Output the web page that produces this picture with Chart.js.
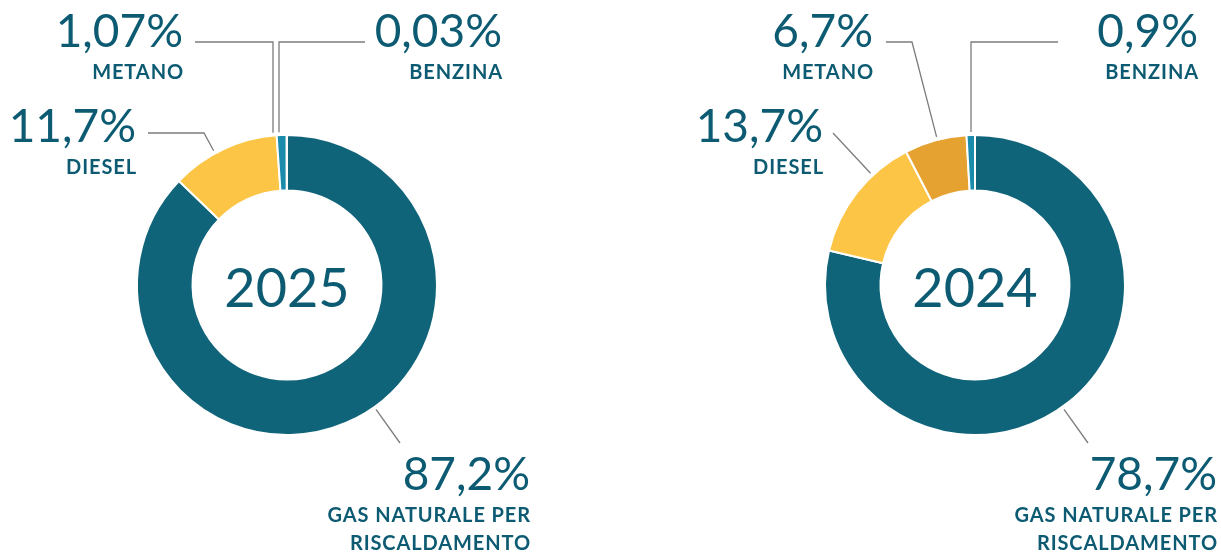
<!DOCTYPE html>
<html lang="it">
<head>
<meta charset="utf-8">
<script src="https://cdn.jsdelivr.net/npm/chart.js@4.4.1/dist/chart.umd.min.js"></script>
<style>
    html, body { margin: 0; padding: 0; background: #fff; overflow: hidden; }
    canvas { position: absolute; top: 0; }
    #Chart2025 { left: 0; }
    #Chart2024 { left: 610px; }
</style>
</head>
<body>
<canvas id="Chart2025" width="610" height="553"></canvas>
<canvas id="Chart2024" width="611" height="553"></canvas>
<script>
const categorie = ["GAS NATURALE PER RISCALDAMENTO", "DIESEL", "METANO", "BENZINA"]
const righe_categorie = [["GAS NATURALE PER", "RISCALDAMENTO"], ["DIESEL"], ["METANO"], ["BENZINA"]]

const anni = ["2025", "2024"]
const valori_2025 = [87.2, 11.7, 1.07, 0.03]
const valori_2024 = [78.7, 13.7, 6.7, 0.9]

const colori_2025 = ["#10647a", "#fcc545", "#1a8bab", "#1a8bab"]
const colori_2024 = ["#10647a", "#fcc545", "#e6a231", "#1a8bab"]

const colore_testo = "#0d5b72"
const colore_linea = "#7c7c7c"

// posizione delle etichette rispetto al centro della ciambella
// x, y = fine destra / baseline della percentuale, linea = punti del richiamo
const layout_2025 = [
    { x: 243, y: 205, linea: [[113, 158]] },
    { x: -151, y: -143, linea: [[-139, -152], [-83, -152]] },
    { x: -104, y: -238, linea: [[-92, -243], [-14, -243]], verticale: true },
    { x: 215, y: -238, linea: [[78, -243], [-8, -243]], verticale: true }
]
const layout_2024 = [
    { x: 242, y: 205, linea: [[113, 158]] },
    { x: -152, y: -143, linea: [[-142, -152]] },
    { x: -102, y: -238, linea: [[-89, -243], [-63, -243]] },
    { x: 223, y: -238, linea: [[83, -243], [-4, -243]], verticale: true }
]

function formato (v) {
    return String(v).replace(".", ",") + "%"
}

const etichette = {
    id: "etichette",
    afterDraw(chart, args, opts) {
        const ctx = chart.ctx
        const arc = chart.getDatasetMeta(0).data[0]
        const cx = arc.x
        const cy = arc.y
        const r = arc.outerRadius + 3
        const valori = chart.data.datasets[0].data

        ctx.save()
        ctx.fillStyle = colore_testo
        ctx.textBaseline = "alphabetic"

        ctx.textAlign = "center"
        ctx.font = "400 54px Lato"
        ctx.fillText(opts.anno, cx, cy + 22)

        opts.layout.forEach((p, i) => {
            // linea di richiamo fino al bordo esterno
            const ultimo = p.linea[p.linea.length - 1]
            let ex, ey
            if (p.verticale) {
                ex = ultimo[0]
                ey = -Math.sqrt(r * r - ex * ex)
            } else {
                const d = Math.hypot(ultimo[0], ultimo[1])
                ex = ultimo[0] / d * r
                ey = ultimo[1] / d * r
            }
            ctx.strokeStyle = colore_linea
            ctx.lineWidth = 1.3
            ctx.beginPath()
            ctx.moveTo(cx + p.linea[0][0], cy + p.linea[0][1])
            p.linea.forEach((pt) => ctx.lineTo(cx + pt[0], cy + pt[1]))
            ctx.lineTo(cx + ex, cy + ey)
            ctx.stroke()

            ctx.textAlign = "right"
            ctx.letterSpacing = "0px"
            ctx.font = "400 46px Lato"
            ctx.fillText(formato(valori[i]), cx + p.x, cy + p.y)
            ctx.font = "700 20px Lato"
            ctx.letterSpacing = "0.9px"
            righe_categorie[i].forEach((t, k) => {
                ctx.fillText(t, cx + p.x + 1, cy + p.y + 32 + k * 28)
            })
        })
        ctx.restore()
    }
}

function ciambella (el, anno, valori, colori, layout, padding) {
    return new Chart(el, {
        type: "doughnut",
        data: {
            labels: categorie,
            datasets: [
                {
                    data: valori,
                    backgroundColor: colori,
                    borderColor: "#ffffff",
                    borderWidth: 2
                }
            ]
        },
        options: {
            responsive: false,
            animation: false,
            radius: 150,
            cutout: "63%",
            layout: { padding: padding },
            plugins: {
                legend: { display: false },
                tooltip: { enabled: false },
                etichette: { anno: anno, layout: layout }
            }
        },
        plugins: [etichette]
    })
}

ciambella(document.getElementById("Chart2025"), anni[0], valori_2025, colori_2025, layout_2025,
    { left: 0, right: 36, top: 17, bottom: 0 })
ciambella(document.getElementById("Chart2024"), anni[1], valori_2024, colori_2024, layout_2024,
    { left: 119, right: 0, top: 17, bottom: 0 })
</script>
</body>
</html>
